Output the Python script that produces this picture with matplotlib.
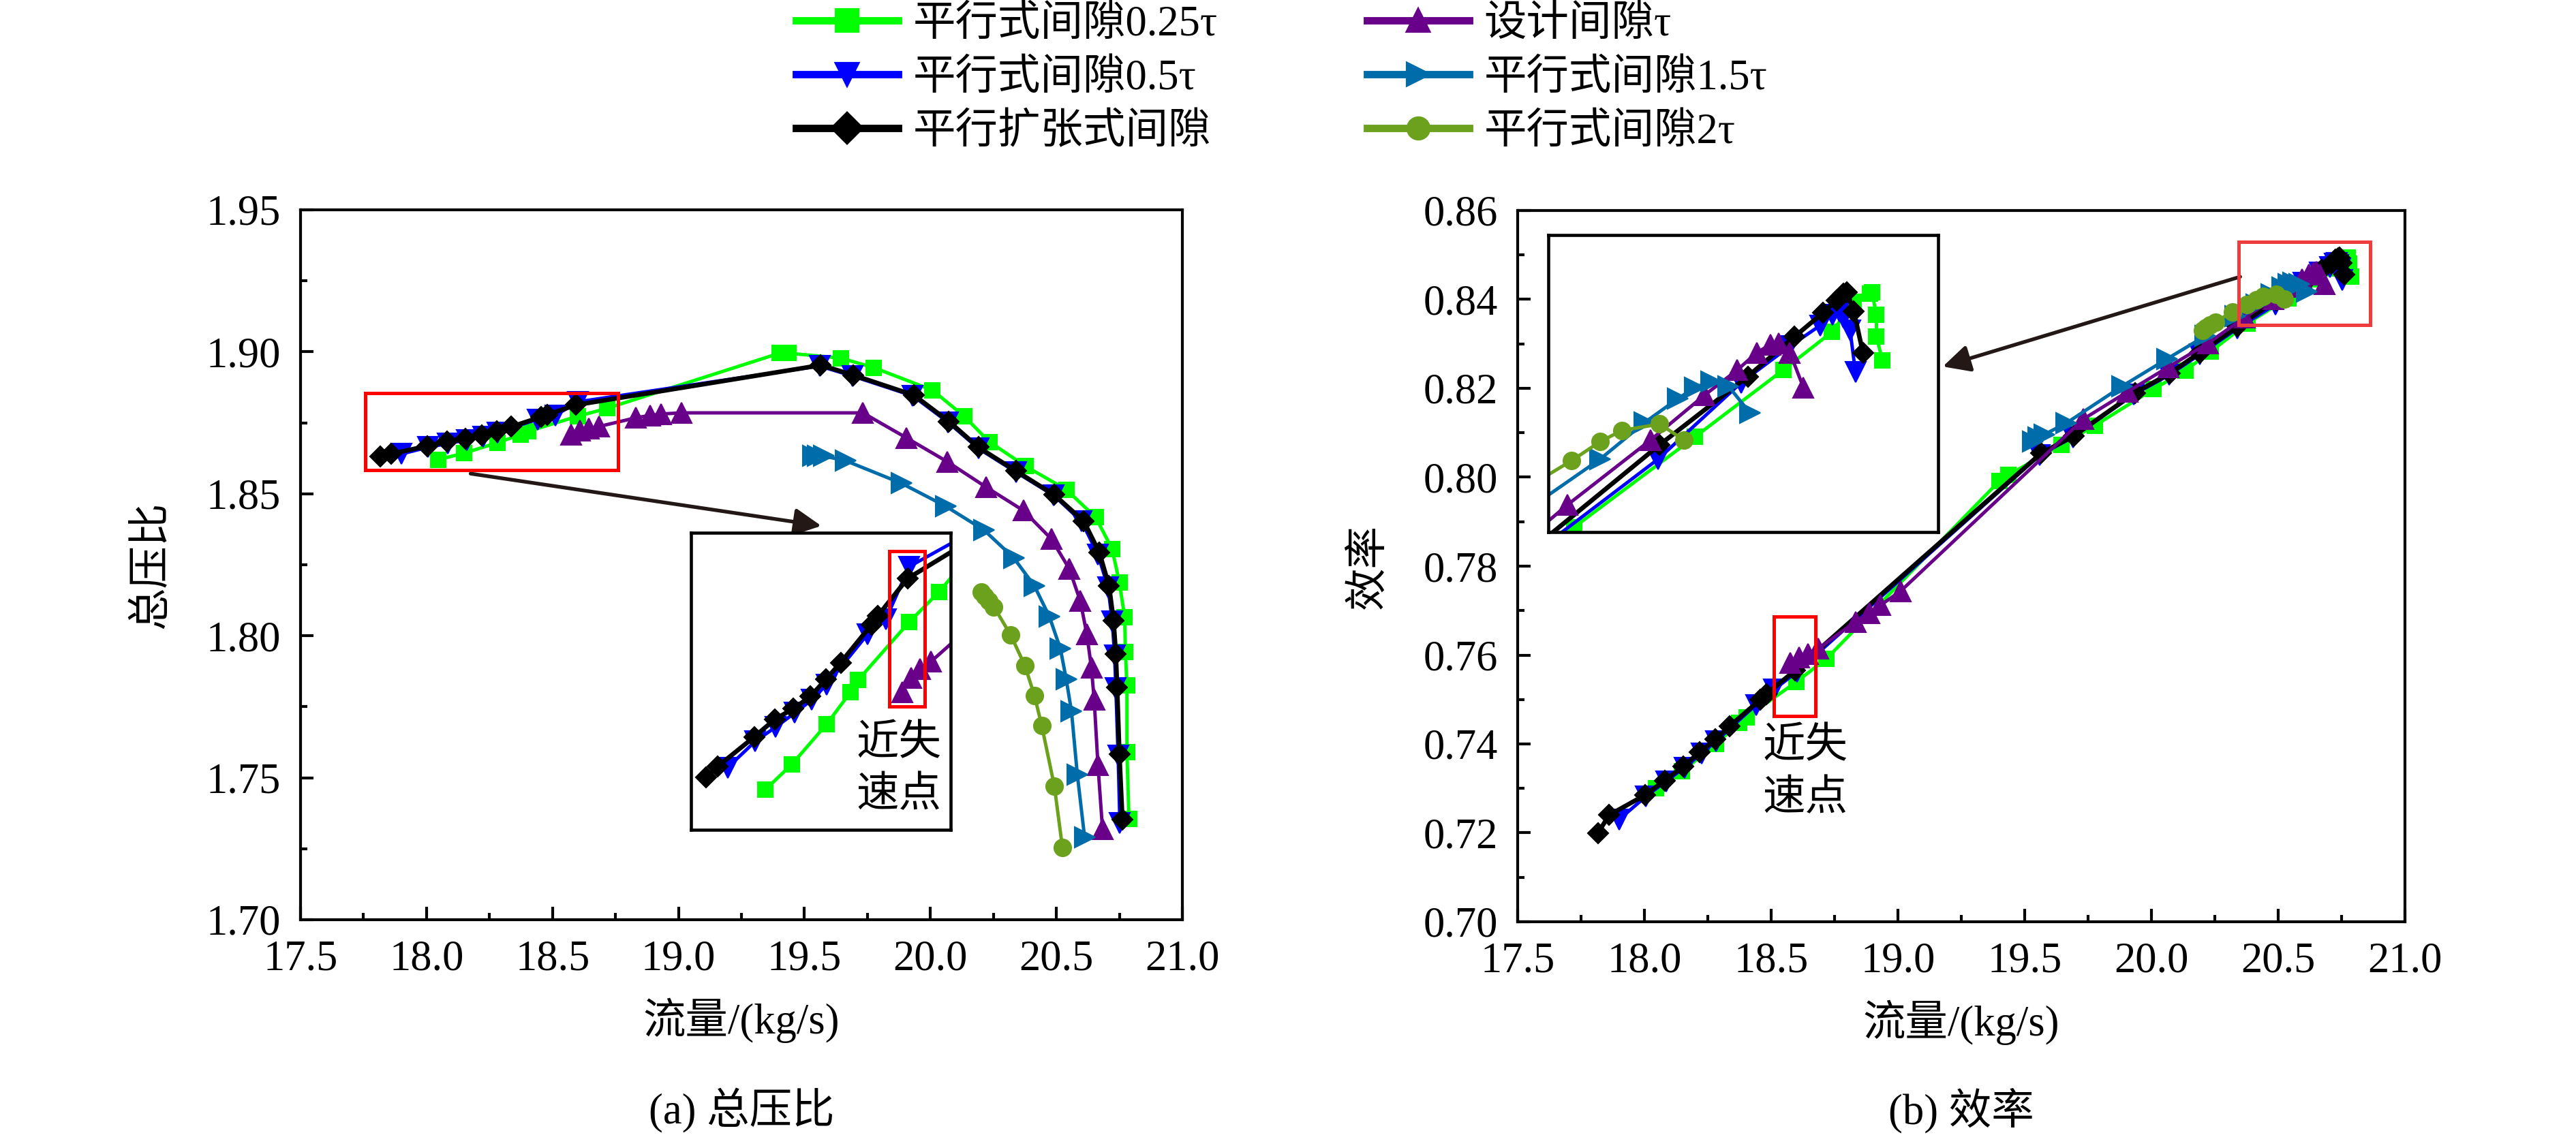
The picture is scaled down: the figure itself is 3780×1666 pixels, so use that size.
import numpy as np
import matplotlib
matplotlib.use('Agg')
from matplotlib import pyplot as plt
from matplotlib.lines import Line2D
from matplotlib.patches import Rectangle
from matplotlib.ticker import FormatStrFormatter, MultipleLocator

plt.rcParams['font.family'] = ['Liberation Serif', 'Noto Sans CJK SC']
plt.rcParams['font.size'] = 15
plt.rcParams['axes.unicode_minus'] = False

# ---- data ----
labels = ['平行式间隙0.25τ', '平行式间隙0.5τ', '平行扩张式间隙',
          '设计间隙τ', '平行式间隙1.5τ', '平行式间隙2τ']

# 平行式间隙0.25τ
flow_g = [18.046, 18.148, 18.283, 18.374, 18.403, 18.600, 18.717, 19.401, 19.436, 19.644,
          19.776, 20.008, 20.134, 20.234, 20.378, 20.539, 20.656, 20.721, 20.750, 20.771,
          20.774, 20.780, 20.780, 20.788]
pr_g = [1.8620, 1.8643, 1.8680, 1.8709, 1.8720, 1.8773, 1.8801, 1.8995, 1.8995, 1.8978,
        1.8944, 1.8865, 1.8773, 1.8683, 1.8597, 1.8515, 1.8417, 1.8306, 1.8188, 1.8066,
        1.7943, 1.7825, 1.7590, 1.7355]
eff_g = [0.7300, 0.7338, 0.7400, 0.7448, 0.7460, 0.7540, 0.7591, 0.7992, 0.8005, 0.8073,
         0.8116, 0.8198, 0.8240, 0.8283, 0.8346, 0.8403, 0.8445, 0.8469, 0.8488, 0.8493,
         0.8494, 0.8480, 0.8466, 0.8451]

# 平行式间隙0.5τ
flow_b = [17.900, 18.006, 18.085, 18.159, 18.225, 18.282, 18.440, 18.511, 18.601, 19.560,
          19.690, 19.930, 20.070, 20.190, 20.340, 20.490, 20.600, 20.665, 20.705, 20.722,
          20.731, 20.736, 20.745, 20.752]
pr_b = [1.8640, 1.8664, 1.8677, 1.8690, 1.8702, 1.8716, 1.8762, 1.8776, 1.8824, 1.8950,
        1.8915, 1.8845, 1.8752, 1.8660, 1.8576, 1.8494, 1.8403, 1.8286, 1.8170, 1.8050,
        1.7930, 1.7815, 1.7578, 1.7340]
eff_b = [0.7230, 0.7282, 0.7316, 0.7347, 0.7379, 0.7406, 0.7488, 0.7522, 0.7562, 0.8050,
         0.8090, 0.8186, 0.8230, 0.8276, 0.8335, 0.8389, 0.8437, 0.8460, 0.8473, 0.8480,
         0.8482, 0.8478, 0.8470, 0.8444]

# 平行扩张式间隙
flow_k = [17.817, 17.861, 18.002, 18.081, 18.154, 18.219, 18.280, 18.336, 18.456, 18.480,
          18.594, 19.565, 19.694, 19.935, 20.073, 20.190, 20.340, 20.492, 20.609, 20.671,
          20.709, 20.727, 20.736, 20.741, 20.750, 20.762]
pr_k = [1.8631, 1.8641, 1.8668, 1.8684, 1.8694, 1.8705, 1.8721, 1.8736, 1.8771, 1.8779,
        1.8813, 1.8953, 1.8918, 1.8847, 1.8755, 1.8664, 1.8580, 1.8496, 1.8403, 1.8292,
        1.8175, 1.8053, 1.7936, 1.7819, 1.7584, 1.7353]
eff_k = [0.7200, 0.7240, 0.7285, 0.7318, 0.7350, 0.7382, 0.7410, 0.7440, 0.7499, 0.7512,
         0.7565, 0.8054, 0.8093, 0.8190, 0.8234, 0.8280, 0.8339, 0.8398, 0.8441, 0.8466,
         0.8481, 0.8489, 0.8493, 0.8494, 0.8482, 0.8456]

# 设计间隙τ
flow_p = [18.574, 18.609, 18.644, 18.685, 18.832, 18.887, 18.931, 19.011, 19.732, 19.905,
          20.067, 20.222, 20.369, 20.480, 20.551, 20.595, 20.621, 20.639, 20.650, 20.665,
          20.683]
pr_p = [1.8709, 1.8722, 1.8730, 1.8737, 1.8768, 1.8776, 1.8781, 1.8785, 1.8785, 1.8697,
        1.8613, 1.8523, 1.8441, 1.8341, 1.8236, 1.8122, 1.8005, 1.7887, 1.7775, 1.7544,
        1.7320]
eff_p = [0.7582, 0.7594, 0.7603, 0.7614, 0.7675, 0.7694, 0.7712, 0.7744, 0.8131, 0.8192,
         0.8248, 0.8301, 0.8360, 0.8401, 0.8429, 0.8445, 0.8456, 0.8461, 0.8462, 0.8456,
         0.8434]

# 平行式间隙1.5τ
flow_s = [19.533, 19.553, 19.577, 19.665, 19.885, 20.061, 20.213, 20.331, 20.413, 20.472,
          20.516, 20.539, 20.560, 20.583, 20.612]
pr_s = [1.8633, 1.8633, 1.8633, 1.8616, 1.8537, 1.8456, 1.8372, 1.8274, 1.8175, 1.8068,
        1.7954, 1.7847, 1.7733, 1.7512, 1.7290]
eff_s = [0.8081, 0.8090, 0.8096, 0.8122, 0.8205, 0.8266, 0.8318, 0.8362, 0.8389, 0.8412,
         0.8427, 0.8434, 0.8438, 0.8435, 0.8418]

# 平行式间隙2τ
flow_o = [20.202, 20.216, 20.231, 20.252, 20.319, 20.375, 20.413, 20.442, 20.492, 20.524]
pr_o = [1.8153, 1.8140, 1.8122, 1.8102, 1.8002, 1.7895, 1.7789, 1.7683, 1.7470, 1.7254]
eff_o = [0.8331, 0.8336, 0.8343, 0.8349, 0.8372, 0.8388, 0.8400, 0.8407, 0.8411, 0.8401]

flows = [flow_g, flow_b, flow_k, flow_p, flow_s, flow_o]
prs = [pr_g, pr_b, pr_k, pr_p, pr_s, pr_o]
effs = [eff_g, eff_b, eff_k, eff_p, eff_s, eff_o]

colors = ['#00FF00', '#0000FF', '#000000', '#68008A', '#006DAA', '#6BA11D']
markers = ['s', 'v', 'D', '^', '>', 'o']
msizes = [5.3, 7, 5, 7, 7, 6]
lwidths = [1.2, 1.2, 1.6, 1.2, 1.2, 1.2]
arrow_col = '#231815'


def draw_series(ax, yvals):
  for fl, yv, c, m, ms, lw in zip(flows, yvals, colors, markers, msizes, lwidths):
    ax.plot(fl, yv, color=c, marker=m, ms=ms, lw=lw, mec=c, mfc=c, mew=0.5)


def style_axis(ax, ylo, yhi, ystep, yfmt):
  ax.set_xlim(17.5, 21.0)
  ax.set_ylim(ylo, yhi)
  ax.xaxis.set_major_locator(MultipleLocator(0.5))
  ax.xaxis.set_minor_locator(MultipleLocator(0.25))
  ax.yaxis.set_major_locator(MultipleLocator(ystep))
  ax.yaxis.set_minor_locator(MultipleLocator(ystep / 2))
  ax.xaxis.set_major_formatter(FormatStrFormatter('%.1f'))
  ax.yaxis.set_major_formatter(FormatStrFormatter(yfmt))
  ax.tick_params(which='both', direction='in', top=False, right=False, width=1.0)
  ax.tick_params(which='major', length=4.5, pad=7, labelsize=15)
  ax.tick_params(which='minor', length=2.5)
  for sp in ax.spines.values():
    sp.set_linewidth(1.0)
  ax.set_xlabel('流量/(kg/s)', fontsize=15, labelpad=6.5)


def make_inset(ax, bounds, xlim, ylim, yvals):
  ins = ax.inset_axes(bounds)
  draw_series(ins, yvals)
  ins.set_xlim(*xlim)
  ins.set_ylim(*ylim)
  ins.set_xticks([])
  ins.set_yticks([])
  for sp in ins.spines.values():
    sp.set_linewidth(1.1)
  return ins


fig = plt.figure(figsize=(12.6, 1666 / 300), dpi=300)
ax1 = fig.add_axes([441 / 3780, 1 - 1350 / 1666, 1294 / 3780, 1042 / 1666])
ax2 = fig.add_axes([2227 / 3780, 1 - 1353 / 1666, 1302 / 3780, 1044 / 1666])

# ---- (a) total pressure ratio ----
draw_series(ax1, prs)
style_axis(ax1, 1.70, 1.95, 0.05, '%.2f')
ax1.set_ylabel('总压比', fontsize=15, labelpad=12)

ax1.add_patch(Rectangle((17.758, 1.8583), 1.003, 0.0272, fill=False, ec='#FF0000', lw=1.2, zorder=4))
ax1.annotate('', xy=(19.567, 1.8387), xytext=(18.175, 1.8571),
             arrowprops=dict(arrowstyle='-|>', color=arrow_col, lw=1.3, mutation_scale=20,
                             shrinkA=0, shrinkB=0))
ins1 = make_inset(ax1, [0.4428, 0.1267, 0.2944, 0.4184], (17.758, 18.761), (1.8583, 1.8855), prs)
ins1.add_patch(Rectangle((18.524, 1.8696), 0.136, 0.0142, fill=False, ec='#FF0000', lw=1.2, zorder=4))
ins1.text(0.80, 0.206, '近失\n速点', transform=ins1.transAxes, ha='center', va='center',
          fontsize=15, linespacing=1.25, family=['Noto Sans CJK SC'])

# ---- (b) efficiency ----
draw_series(ax2, effs)
style_axis(ax2, 0.70, 0.86, 0.02, '%.2f')
ax2.set_ylabel('效率', fontsize=15, labelpad=12)

ax2.add_patch(Rectangle((20.344, 0.8343), 0.518, 0.0187, fill=False, ec='#F03C3C', lw=1.2, zorder=4))
ax2.add_patch(Rectangle((18.512, 0.7463), 0.162, 0.0224, fill=False, ec='#FF0000', lw=1.2, zorder=4))
ax2.text(18.635, 0.7338, '近失\n速点', ha='center', va='center', fontsize=15, linespacing=1.25,
         family=['Noto Sans CJK SC'])
ax2.annotate('', xy=(19.177, 0.8249), xytext=(20.350, 0.8451),
             arrowprops=dict(arrowstyle='-|>', color=arrow_col, lw=1.3, mutation_scale=20,
                             shrinkA=0, shrinkB=0))
ins2 = make_inset(ax2, [0.0346, 0.5479, 0.4393, 0.4176], (20.344, 20.862), (0.8343, 0.8530), effs)

# ---- legend and captions ----
handles = [Line2D([], [], color=c, marker=m, ms=7.5, lw=2.6, mec=c, mfc=c)
           for c, m in zip(colors, markers)]
fig.legend(handles, labels, loc='upper left', bbox_to_anchor=(1168 / 3780, 0.995), ncol=2,
           frameon=False, borderpad=0, borderaxespad=0, handlelength=2.4, handletextpad=0.35,
           columnspacing=3.5, labelspacing=0.33, fontsize=15)

fig.text((441 + 1735) / 2 / 3780, 1 - 1630 / 1666, '(a) 总压比', ha='center', va='center', fontsize=15)
fig.text((2227 + 3529) / 2 / 3780, 1 - 1630 / 1666, '(b) 效率', ha='center', va='center', fontsize=15)

fig.savefig('out.png', dpi=300)
